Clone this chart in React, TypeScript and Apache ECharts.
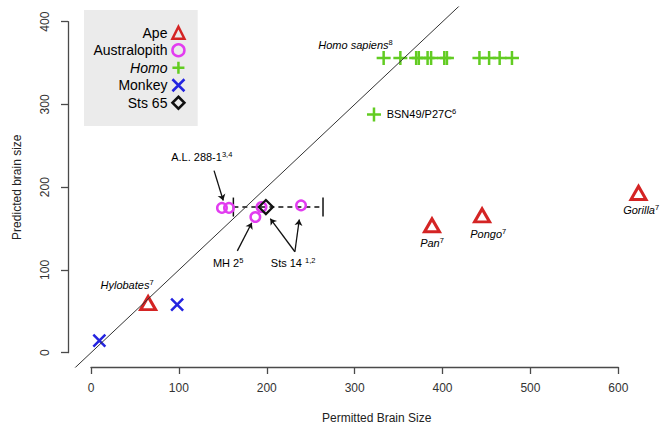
import React, { useEffect, useRef } from 'react';
import * as echarts from 'echarts';

// ---- data (Permitted brain size, Predicted brain size) ----
const apeNames = ['Hylobates', 'Pan', 'Pongo', 'Gorilla'];
const apePermitted = [65, 388, 445, 623];
const apePredicted = [60, 154, 166, 193];

const australopithPermitted = [149, 157, 187, 194, 239];
const australopithPredicted = [175, 175, 164, 176, 178];

const homoPermitted = [322, 333, 352, 370, 373, 383, 387, 402, 405, 442, 453, 465, 479];
const homoPredicted = [288, 356, 356, 356, 356, 356, 356, 356, 356, 356, 356, 356, 356];

const monkeyPermitted = [9.5, 98];
const monkeyPredicted = [14.5, 58];

const sts65Permitted = [199];
const sts65Predicted = [176];
const sts65Range = [162, 264];

const identityLine = [-30, 450];

const xTickRange = [0, 600, 100];
const yTickRange = [0, 400, 100];

// annotations
const noteTexts = ['A.L. 288-1', 'MH 2', 'Sts 14 ', 'Hylobates', 'Pan', 'Pongo', 'Gorilla', 'Homo sapiens', 'BSN49/P27C'];
const noteSups = ['3,4', '5', '1,2', '7', '7', '7', '7', '8', '6'];
const noteItalic = [false, false, false, true, true, true, true, true, false];
const noteX = [126, 156, 230, 41, 388, 452, 626, 301, 376];
const noteY = [237, 108, 108, 82, 133, 143, 172, 372, 288];

const arrowFrom = [[140, 220], [166.5, 123], [232, 122], [232, 122]];
const arrowTo = [[150.5, 184], [183, 157], [204, 162], [237, 161]];

const legendNames = ['Ape', 'Australopith', 'Homo', 'Monkey', 'Sts 65'];

const RED = '#d42424';
const MAGENTA = '#e23cf0';
const GREEN = '#62cc22';
const BLUE = '#2424e0';
const INK = '#000000';
const FONT = "'Liberation Sans', Arial, Helvetica, sans-serif";

const zip = (a: number[], b: number[]) => a.map((v, i) => [v, b[i]]);

export default function App() {
  const ref = useRef<HTMLDivElement>(null);
  useEffect(() => {
    if (!ref.current) return;
    const chart = echarts.init(ref.current, undefined, { renderer: 'svg' });
    const xScale = 527.3 / 600;
    const yScale = 331 / 400;
    const option: any = {
      animation: false,
      backgroundColor: '#ffffff',
      textStyle: { fontFamily: FONT },
      grid: [
        { left: 68, top: 7, width: 593, height: 360, outerBoundsMode: 'none', containLabel: false },
        { left: 91, top: 366, width: 527.3, height: 1, outerBoundsMode: 'none', containLabel: false },
        { left: 68, top: 21.7, width: 1, height: 331, outerBoundsMode: 'none', containLabel: false },
      ],
      xAxis: [
        { gridIndex: 0, type: 'value', show: false, min: -23 / xScale, max: 570 / xScale },
        {
          gridIndex: 1, type: 'value', min: xTickRange[0], max: xTickRange[1], interval: xTickRange[2],
          position: 'bottom',
          axisLine: { show: true, lineStyle: { color: '#4a4a4a', width: 1.3 } },
          axisTick: { show: true, inside: false, length: 7, lineStyle: { color: '#4a4a4a', width: 1.3 } },
          axisLabel: { show: true, margin: 15, fontSize: 12, color: '#333', fontFamily: FONT },
          splitLine: { show: false },
          name: 'Permitted Brain Size', nameLocation: 'middle', nameGap: 45, nameMoveOverlap: false,
          nameTextStyle: { fontSize: 12, color: '#222', fontFamily: FONT, padding: [0, 0, 0, 44] },
        },
        { gridIndex: 2, type: 'value', show: false, min: 0, max: 1 },
      ],
      yAxis: [
        { gridIndex: 0, type: 'value', show: false, min: -14.3 / yScale, max: 345.7 / yScale },
        { gridIndex: 1, type: 'value', show: false, min: 0, max: 1 },
        {
          gridIndex: 2, type: 'value', min: yTickRange[0], max: yTickRange[1], interval: yTickRange[2],
          position: 'left',
          axisLine: { show: true, lineStyle: { color: '#4a4a4a', width: 1.3 } },
          axisTick: { show: true, inside: false, length: 7, lineStyle: { color: '#4a4a4a', width: 1.3 } },
          axisLabel: { show: true, rotate: 90, margin: 17, fontSize: 12, color: '#333', fontFamily: FONT },
          splitLine: { show: false },
          name: 'Predicted brain size', nameLocation: 'middle', nameGap: 45, nameMoveOverlap: false,
          nameTextStyle: { fontSize: 12, color: '#222', fontFamily: FONT },
        },
      ],
      legend: {
        data: legendNames,
        left: 84, top: 10, orient: 'vertical', align: 'right',
        backgroundColor: '#ebebeb',
        padding: [15.5, 12, 16, 9.5],
        itemWidth: 12, itemHeight: 12, itemGap: 3,
        selectedMode: false,
        itemStyle: { borderWidth: 2.5 },
        formatter: (n: string) => (n === 'Homo' ? '{i|Homo}' : n),
        textStyle: {
          fontSize: 14, color: INK, lineHeight: 14, fontFamily: FONT,
          rich: { i: { fontStyle: 'italic', fontSize: 14, lineHeight: 14, color: INK, fontFamily: FONT } },
        },
      },
      series: [
        {
          type: 'custom', name: 'Sts 65 range', xAxisIndex: 0, yAxisIndex: 0, silent: true,
          data: [[sts65Range[0], sts65Range[1], sts65Predicted[0]]],
          encode: { x: [0, 1], y: 2 },
          renderItem: (_p: any, api: any) => {
            const lo = api.coord([api.value(0), api.value(2)]);
            const hi = api.coord([api.value(1), api.value(2)]);
            const cap = 9.5;
            const st = { stroke: '#111', lineWidth: 1.5 };
            return {
              type: 'group',
              children: [
                { type: 'line', shape: { x1: lo[0], y1: lo[1], x2: hi[0], y2: hi[1] }, style: { ...st, lineDash: [5, 4] } },
                { type: 'line', shape: { x1: lo[0], y1: lo[1] - cap, x2: lo[0], y2: lo[1] + cap }, style: st },
                { type: 'line', shape: { x1: hi[0], y1: hi[1] - cap, x2: hi[0], y2: hi[1] + cap }, style: st },
              ],
            };
          },
        },
        {
          type: 'line', name: 'identity', xAxisIndex: 0, yAxisIndex: 0, silent: true,
          data: [[identityLine[0], identityLine[0]], [identityLine[1], identityLine[1]]],
          symbol: 'none', clip: true,
          lineStyle: { color: '#333', width: 1 },
        },
        {
          type: 'lines', coordinateSystem: 'cartesian2d', xAxisIndex: 0, yAxisIndex: 0, silent: true,
          data: arrowFrom.map((f, i) => ({ coords: [f, arrowTo[i]] })),
          symbol: ['none', 'arrow'], symbolSize: 6,
          lineStyle: { color: '#111', width: 1.3, opacity: 1, curveness: 0 },
        },
        {
          type: 'scatter', name: 'Ape', xAxisIndex: 0, yAxisIndex: 0,
          data: zip(apePermitted, apePredicted).map((v, i) => ({ value: v, name: apeNames[i] })),
          symbol: 'triangle', symbolSize: [15, 13],
          itemStyle: { color: 'transparent', borderColor: RED, borderWidth: 3, opacity: 1 },
        },
        {
          type: 'scatter', name: 'Australopith', xAxisIndex: 0, yAxisIndex: 0,
          data: zip(australopithPermitted, australopithPredicted),
          symbol: 'circle', symbolSize: 9.5,
          itemStyle: { color: 'transparent', borderColor: MAGENTA, borderWidth: 2.5, opacity: 1 },
        },
        {
          type: 'scatter', name: 'Homo', xAxisIndex: 0, yAxisIndex: 0,
          data: zip(homoPermitted, homoPredicted),
          symbol: 'path://M1,0L1,2M0,1L2,1', symbolSize: 14,
          itemStyle: { color: 'transparent', borderColor: GREEN, borderWidth: 2.5, opacity: 1 },
        },
        {
          type: 'scatter', name: 'Monkey', xAxisIndex: 0, yAxisIndex: 0,
          data: zip(monkeyPermitted, monkeyPredicted),
          symbol: 'path://M0,0L2,2M0,2L2,0', symbolSize: 12,
          itemStyle: { color: 'transparent', borderColor: BLUE, borderWidth: 2.5, opacity: 1 },
        },
        {
          type: 'scatter', name: 'Sts 65', xAxisIndex: 0, yAxisIndex: 0,
          data: zip(sts65Permitted, sts65Predicted),
          symbol: 'diamond', symbolSize: 14,
          itemStyle: { color: 'transparent', borderColor: '#111', borderWidth: 2.3, opacity: 1 },
        },
        {
          type: 'scatter', name: 'notes', xAxisIndex: 0, yAxisIndex: 0, silent: true,
          symbol: 'circle', symbolSize: 1,
          itemStyle: { color: 'rgba(0,0,0,0)', opacity: 1 },
          data: noteTexts.map((t, i) => ({
            value: [noteX[i], noteY[i]],
            label: {
              show: true, position: 'inside', color: INK,
              formatter: noteItalic[i] ? `{i|${t}}{s|${noteSups[i]}}` : `{n|${t}}{s|${noteSups[i]}}`,
            },
          })),
          label: {
            show: true, color: INK, opacity: 1,
            rich: {
              n: { fontSize: 11, color: INK, fontFamily: FONT, lineHeight: 13 },
              i: { fontSize: 11, color: INK, fontStyle: 'italic', fontFamily: FONT, lineHeight: 13 },
              s: { fontSize: 7.5, color: INK, fontFamily: FONT, verticalAlign: 'top', lineHeight: 9 },
            },
          },
        },
      ],
    };
    chart.setOption(option);
    return () => chart.dispose();
  }, []);
  return <div ref={ref} style={{ position: 'fixed', left: 0, top: 0, width: 661, height: 430 }} />;
}
